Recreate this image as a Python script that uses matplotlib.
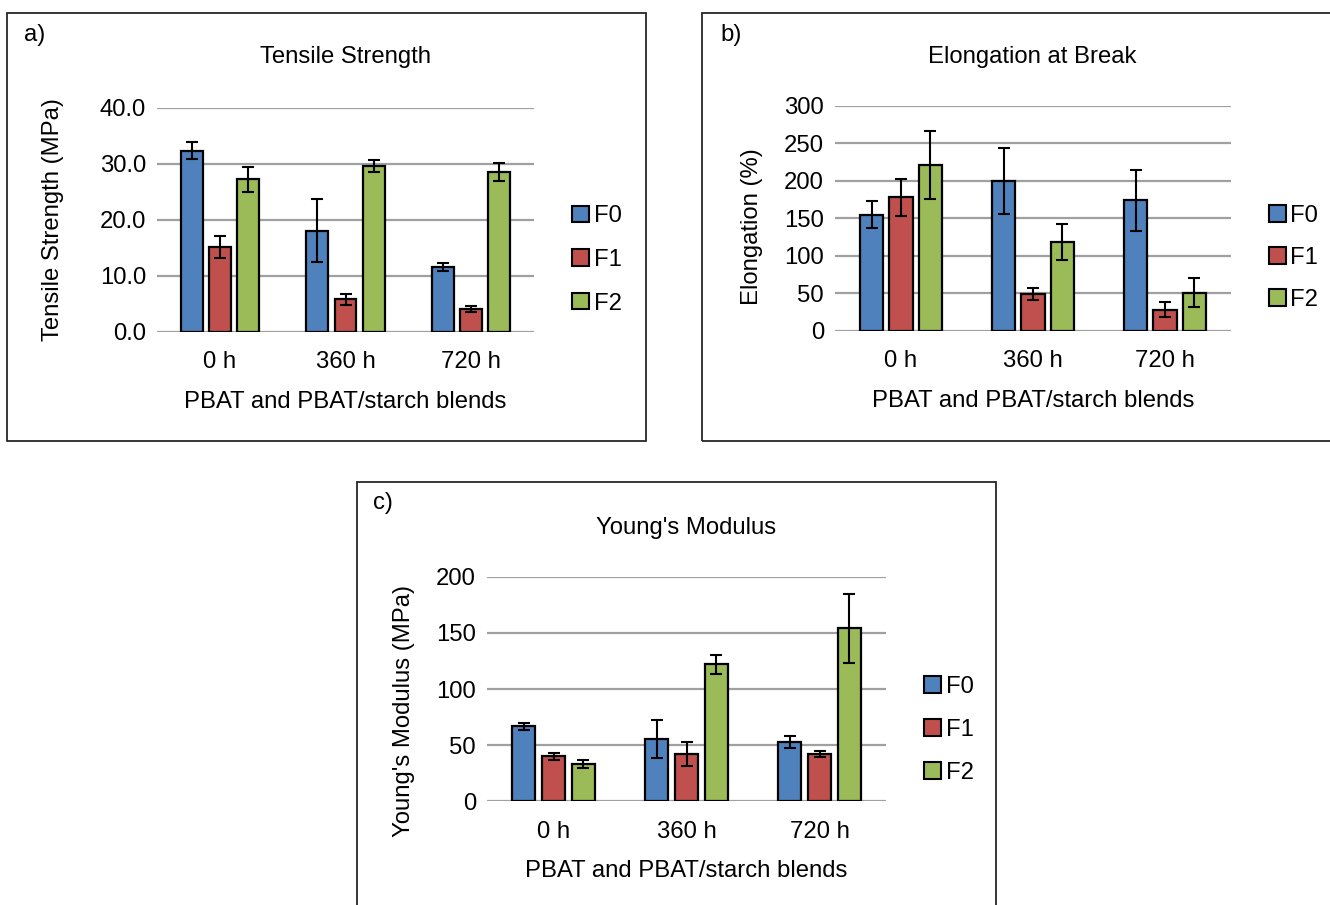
import numpy as np
import matplotlib
matplotlib.use("Agg")
import matplotlib.pyplot as plt
from matplotlib.patches import Patch, Rectangle

plt.rcParams['font.family'] = ['Liberation Sans', 'DejaVu Sans']

W, H = 1330, 905
times = ['0 h', '360 h', '720 h']
series = ['F0', 'F1', 'F2']
colors = ['#4F81BD', '#C0504D', '#9BBB59']

# tensile strength (MPa)
ts_f0 = [32.3, 18.1, 11.6]
ts_f1 = [15.2, 5.8, 4.1]
ts_f2 = [27.2, 29.6, 28.6]
ts_f0_err = [1.5, 5.6, 0.7]
ts_f1_err = [2.0, 1.0, 0.5]
ts_f2_err = [2.2, 1.0, 1.6]

# elongation at break (%)
el_f0 = [155, 200, 174]
el_f1 = [178, 49, 28]
el_f2 = [221, 119, 51]
el_f0_err = [18, 44, 41]
el_f1_err = [25, 8, 10]
el_f2_err = [45, 24, 19]

# young's modulus (MPa)
ym_f0 = [66.8, 55.5, 52.8]
ym_f1 = [40.0, 41.8, 42.1]
ym_f2 = [33.0, 122.2, 154.0]
ym_f0_err = [3.3, 16.6, 5.6]
ym_f1_err = [3.0, 10.7, 2.7]
ym_f2_err = [3.5, 8.4, 31.0]

fig = plt.figure(figsize=(W / 100, H / 100), dpi=100)
FS = 17.2


def fx(x):
    return x / W


def fy(y):
    return 1 - y / H


def add_panel(box, ax_box, vals, errs, ylim, ticks, fmt, title, ylabel, tag,
              title_xy, ylabel_xy, tag_xy, legend_xy, legend_gap):
    x0, y0, x1, y1 = box
    fig.add_artist(Rectangle((fx(x0), fy(y1)), fx(x1 - x0), (y1 - y0) / H,
                             transform=fig.transFigure, fill=False,
                             edgecolor='#262626', lw=1.3))
    ax0, ay0, ax1, ay1 = ax_box
    ax = fig.add_axes([fx(ax0), fy(ay1), fx(ax1 - ax0), (ay1 - ay0) / H])
    x = np.arange(len(times))
    for i, (v, e) in enumerate(zip(vals, errs)):
        ax.bar(x + (i - 1) * 0.223, v, width=0.175, color=colors[i],
               edgecolor='black', linewidth=1.6, zorder=3)
        ax.errorbar(x + (i - 1) * 0.223, v, yerr=e, fmt='none',
                    ecolor='black', elinewidth=1.5, capsize=4.2,
                    capthick=1.5, zorder=4)
    ax.set_xlim(-0.5, 2.5)
    ax.set_ylim(ylim)
    ax.set_yticks(ticks)
    ax.set_yticklabels([fmt.format(t) for t in ticks], fontsize=FS)
    ax.set_xticks(x)
    ax.set_xticklabels(times, fontsize=FS)
    ax.tick_params(length=0)
    ax.tick_params(axis='y', pad=8)
    ax.tick_params(axis='x', pad=14)
    for s in ax.spines.values():
        s.set_visible(False)
    ax.yaxis.grid(True, color='#A0A0A0', lw=1.6, zorder=0)
    ax.set_axisbelow(True)
    ax.set_xlabel('PBAT and PBAT/starch blends', fontsize=FS, labelpad=12.5)
    fig.text(fx(title_xy[0]), fy(title_xy[1]), title, fontsize=FS,
             ha='center', va='center')
    fig.text(fx(ylabel_xy[0]), fy(ylabel_xy[1]), ylabel, fontsize=FS,
             ha='center', va='center', rotation=90)
    fig.text(fx(tag_xy[0]), fy(tag_xy[1]), tag, fontsize=FS,
             ha='left', va='center')
    handles = [Patch(facecolor=c, edgecolor='black', lw=1.5) for c in colors]
    ax.legend(handles, series, loc='center left',
              bbox_to_anchor=(fx(legend_xy[0]), fy(legend_xy[1])),
              bbox_transform=fig.transFigure, frameon=False, fontsize=FS,
              handlelength=0.7, handleheight=0.7, handletextpad=0.2,
              labelspacing=legend_gap, borderpad=0, borderaxespad=0)
    return ax


add_panel((7, 13, 646, 441), (157, 107.7, 534, 332),
          [ts_f0, ts_f1, ts_f2], [ts_f0_err, ts_f1_err, ts_f2_err],
          (0, 40), [0, 10, 20, 30, 40], '{:.1f}',
          'Tensile Strength', 'Tensile Strength (MPa)', 'a)',
          (346, 57), (53, 220), (24, 35), (572, 260), 0.9)

add_panel((702, 13, 1336, 441), (835, 106, 1231, 330.7),
          [el_f0, el_f1, el_f2], [el_f0_err, el_f1_err, el_f2_err],
          (0, 300), [0, 50, 100, 150, 200, 250, 300], '{:.0f}',
          'Elongation at Break', 'Elongation (%)', 'b)',
          (1032, 57), (752, 227), (720, 35), (1269, 258), 0.83)

add_panel((357, 482, 996, 915), (487, 576.7, 886, 801.3),
          [ym_f0, ym_f1, ym_f2], [ym_f0_err, ym_f1_err, ym_f2_err],
          (0, 200), [0, 50, 100, 150, 200], '{:.0f}',
          "Young's Modulus", "Young's Modulus (MPa)", 'c)',
          (686, 528), (404, 711), (373, 503), (924, 730), 0.88)

fig.savefig('out.png', dpi=100, facecolor='white')
